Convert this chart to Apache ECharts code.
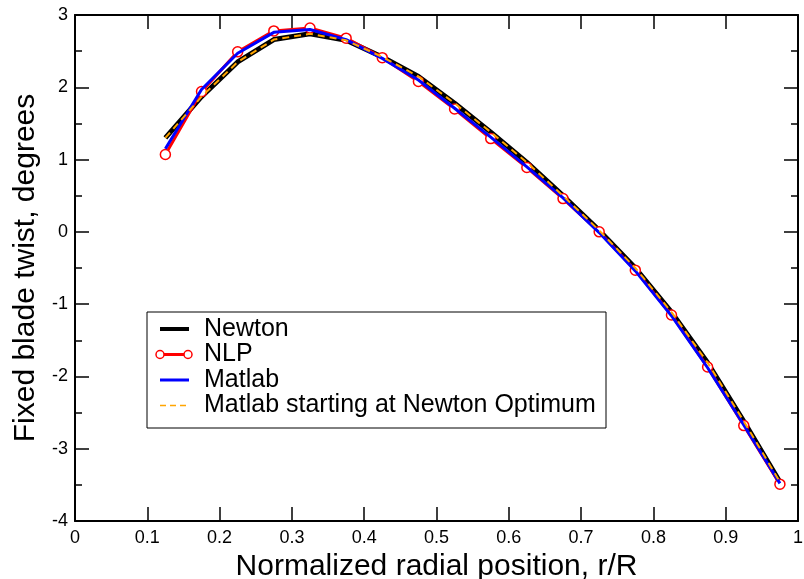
<!DOCTYPE html>
<html>
<head>
<meta charset="utf-8">
<script src="https://cdn.jsdelivr.net/npm/echarts@6/dist/echarts.min.js"></script>
<style>
html,body{margin:0;padding:0;background:#fff;}
#chart{width:804px;height:579px;}
</style>
</head>
<body>
<div id="chart"></div>
<script>
const radialPos = [0.125,0.175,0.225,0.275,0.325,0.375,0.425,0.475,0.525,0.575,0.625,0.675,0.725,0.775,0.825,0.875,0.925,0.975];
const newton = [1.30,1.87,2.35,2.66,2.74,2.65,2.42,2.15,1.78,1.38,0.96,0.50,0.02,-0.50,-1.11,-1.81,-2.62,-3.46];
const nlp = [1.07,1.94,2.49,2.78,2.82,2.68,2.41,2.08,1.70,1.29,0.89,0.46,0.00,-0.53,-1.15,-1.87,-2.68,-3.49];
const matlab = [1.15,1.97,2.47,2.76,2.80,2.66,2.40,2.10,1.71,1.31,0.90,0.47,-0.01,-0.54,-1.16,-1.88,-2.67,-3.48];
const matlabNewton = [1.30,1.87,2.35,2.66,2.74,2.65,2.42,2.15,1.78,1.38,0.96,0.50,0.02,-0.50,-1.11,-1.81,-2.62,-3.46];
const xTicks = ['0','0.1','0.2','0.3','0.4','0.5','0.6','0.7','0.8','0.9','1'];
const yTicks = ['-4','-3','-2','-1','0','1','2','3'];
const legendNames = ['Newton','NLP','Matlab','Matlab starting at Newton Optimum'];

const FONT = '"Liberation Sans", Arial, sans-serif';
const pair = (xs, ys) => xs.map((x, i) => [x, ys[i]]);

const chart = echarts.init(document.getElementById('chart'), null, {renderer: 'canvas'});

const axisLineStyle = {color: '#000', width: 2};
const tickStyle = {color: '#000', width: 1.5};

const xLabelFmt = v => xTicks[Math.round(v * 10)];
const yLabelFmt = v => yTicks[Math.round(v + 4)];

const baseX = {
  type: 'value', min: 0, max: 1, interval: 0.1,
  axisLine: {show: true, onZero: false, lineStyle: axisLineStyle},
  axisTick: {show: true, inside: true, length: 14, lineStyle: tickStyle},
  splitLine: {show: false},
  minorTick: {show: false},
};
const baseY = {
  type: 'value', min: -4, max: 3, interval: 1,
  axisLine: {show: true, onZero: false, lineStyle: axisLineStyle},
  axisTick: {show: true, inside: true, length: 14, lineStyle: tickStyle},
  minorTick: {show: true, splitNumber: 2, length: 7, lineStyle: tickStyle},
  splitLine: {show: false},
  minorSplitLine: {show: false},
};

// legend layout
const lgX = 147, lgY = 312, lgW = 459, lgH = 116;
const rowY = [329, 354.5, 380, 405.5];
const lineX0 = 160, lineX1 = 189, textX = 204;
const graphics = [
  {type: 'rect', shape: {x: lgX, y: lgY, width: lgW, height: lgH}, style: {fill: '#fff', stroke: '#000', lineWidth: 1}, z: 100},
  {type: 'line', shape: {x1: lineX0, y1: rowY[0], x2: lineX1, y2: rowY[0]}, style: {stroke: '#000', lineWidth: 4}, z: 101},
  {type: 'line', shape: {x1: lineX0, y1: rowY[1], x2: lineX1, y2: rowY[1]}, style: {stroke: '#ff0000', lineWidth: 3}, z: 101},
  {type: 'circle', shape: {cx: lineX0, cy: rowY[1], r: 4}, style: {fill: '#fff', stroke: '#ff0000', lineWidth: 1.5}, z: 102},
  {type: 'circle', shape: {cx: lineX1 - 1, cy: rowY[1], r: 4}, style: {fill: '#fff', stroke: '#ff0000', lineWidth: 1.5}, z: 102},
  {type: 'line', shape: {x1: lineX0, y1: rowY[2], x2: lineX1, y2: rowY[2]}, style: {stroke: '#0000ff', lineWidth: 3}, z: 101},
  {type: 'line', shape: {x1: lineX0, y1: rowY[3], x2: lineX1, y2: rowY[3]}, style: {stroke: '#ffa500', lineWidth: 1.5, lineDash: [6, 4]}, z: 101},
];
legendNames.forEach((n, i) => {
  graphics.push({type: 'text', x: textX, y: rowY[i], style: {text: n, fill: '#000', font: '25px ' + FONT, textVerticalAlign: 'middle', textAlign: 'left'}, z: 103});
});

chart.setOption({
  animation: false,
  backgroundColor: '#fff',
  textStyle: {fontFamily: FONT},
  grid: {left: 75, right: 6, top: 15, bottom: 58, containLabel: false, outerBoundsMode: 'none'},
  xAxis: [
    Object.assign({}, baseX, {
      position: 'bottom',
      axisLabel: {show: true, color: '#000', fontSize: 18, fontFamily: FONT, margin: 8, formatter: xLabelFmt, showMinLabel: true, showMaxLabel: true, hideOverlap: false},
      name: 'Normalized radial position, r/R', nameLocation: 'middle', nameGap: 23,
      nameTextStyle: {color: '#000', fontSize: 30, fontFamily: FONT},
    }),
    Object.assign({}, baseX, {position: 'top', axisLabel: {show: false}}),
  ],
  yAxis: [
    Object.assign({}, baseY, {
      position: 'left',
      axisLabel: {show: true, color: '#000', fontSize: 18, fontFamily: FONT, margin: 7, formatter: yLabelFmt, showMinLabel: true, showMaxLabel: true, hideOverlap: false},
      name: 'Fixed blade twist, degrees', nameLocation: 'middle', nameGap: 34, nameRotate: 90,
      nameTextStyle: {color: '#000', fontSize: 30, fontFamily: FONT},
    }),
    Object.assign({}, baseY, {position: 'right', axisLabel: {show: false}}),
  ],
  series: [
    {name: legendNames[0], type: 'line', xAxisIndex: 0, yAxisIndex: 0, data: pair(radialPos, newton), showSymbol: false, symbol: 'none', lineStyle: {color: '#000', width: 5}, z: 2},
    {name: legendNames[1], type: 'line', xAxisIndex: 0, yAxisIndex: 0, data: pair(radialPos, nlp), symbol: 'circle', symbolSize: 10, showSymbol: true, lineStyle: {color: '#ff0000', width: 3}, itemStyle: {color: '#fff', borderColor: '#ff0000', borderWidth: 1.5}, z: 3},
    {name: legendNames[2], type: 'line', xAxisIndex: 0, yAxisIndex: 0, data: pair(radialPos, matlab), symbol: 'none', lineStyle: {color: '#0000ff', width: 3}, z: 4},
    {name: legendNames[3], type: 'line', xAxisIndex: 0, yAxisIndex: 0, data: pair(radialPos, matlabNewton), symbol: 'none', lineStyle: {color: '#ffa500', width: 2, type: [7, 5]}, z: 5},
  ],
  graphic: graphics,
});
</script>
</body>
</html>
